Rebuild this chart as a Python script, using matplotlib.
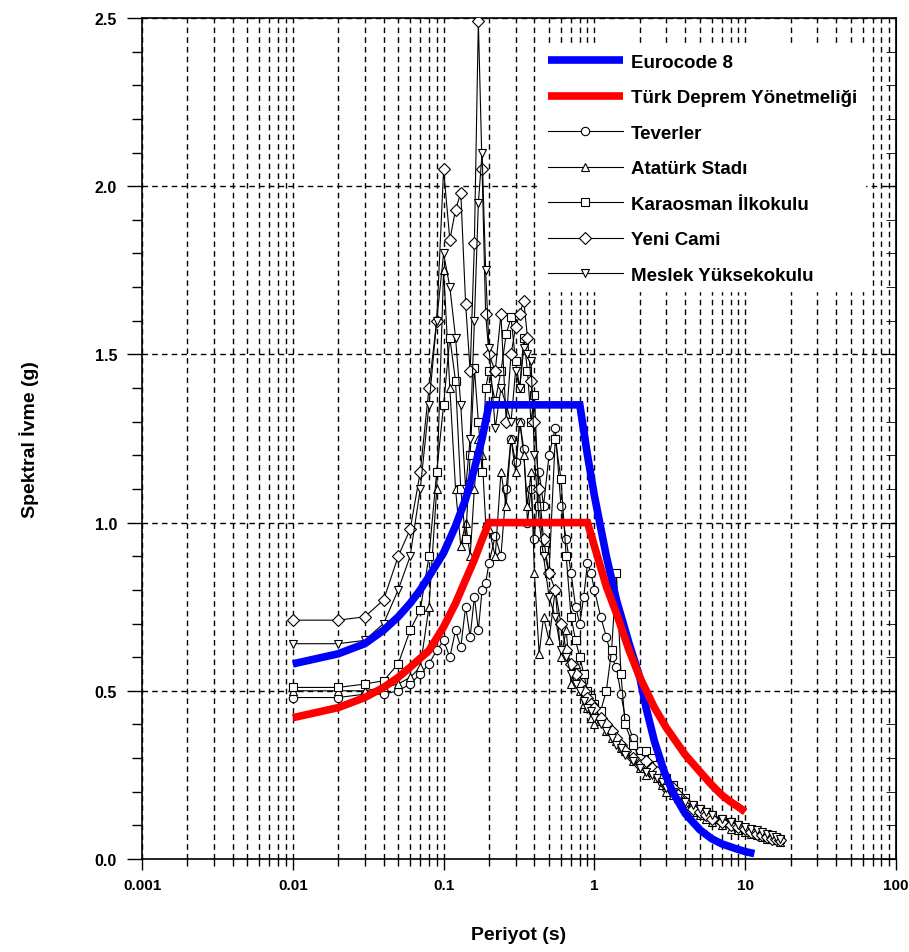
import matplotlib
matplotlib.use("Agg")
import matplotlib.pyplot as plt
from matplotlib.ticker import LogLocator, MultipleLocator, NullFormatter, FixedFormatter, FixedLocator

plt.rcParams['font.family'] = ['Liberation Sans', 'DejaVu Sans']
plt.rcParams['font.weight'] = 'bold'

# design spectra
ec8_T = [0.01, 0.02, 0.03, 0.04, 0.05, 0.06, 0.07, 0.08, 0.10, 0.12, 0.14, 0.16, 0.18, 0.20,
         0.80, 0.90, 1.0, 1.2, 1.4, 1.7, 2.0, 2.2, 2.5, 2.9, 3.3, 4.0, 5.0, 6.0, 7.0, 8.5, 10.0, 11.5]
ec8_sa = [0.58, 0.61, 0.64, 0.68, 0.72, 0.76, 0.80, 0.84, 0.91, 0.99, 1.07, 1.16, 1.25, 1.35,
          1.35, 1.20, 1.08, 0.90, 0.77, 0.64, 0.54, 0.45, 0.35, 0.26, 0.20, 0.135, 0.087, 0.06, 0.045, 0.032, 0.022, 0.016]

tdy_T = [0.01, 0.02, 0.03, 0.04, 0.05, 0.06, 0.08, 0.10, 0.12, 0.14, 0.16, 0.18, 0.20,
         0.90, 1.0, 1.2, 1.4, 1.7, 2.0, 2.5, 3.0, 4.0, 5.0, 6.0, 7.0, 8.0, 9.0, 10.0]
tdy_sa = [0.42, 0.45, 0.48, 0.51, 0.54, 0.57, 0.62, 0.69, 0.76, 0.83, 0.89, 0.95, 1.0,
          1.0, 0.93, 0.81, 0.73, 0.62, 0.54, 0.45, 0.39, 0.31, 0.26, 0.22, 0.19, 0.17, 0.155, 0.14]

# acceleration spectra of the recording stations
periods = [0.01, 0.02, 0.03, 0.04, 0.05, 0.06, 0.07, 0.08, 0.09, 0.10,
           0.11, 0.12, 0.13, 0.14, 0.15, 0.16, 0.17, 0.18, 0.19, 0.20,
           0.22, 0.24, 0.26, 0.28, 0.30, 0.32, 0.34, 0.36, 0.38, 0.40,
           0.43, 0.46, 0.50, 0.55, 0.60, 0.65, 0.70, 0.75, 0.80, 0.85,
           0.90, 0.95, 1.0, 1.1, 1.2, 1.3, 1.4, 1.5, 1.6, 1.8,
           2.0, 2.2, 2.4, 2.6, 2.8, 3.0, 3.3, 3.6, 4.0, 4.5,
           5.0, 5.5, 6.0, 7.0, 8.0, 9.0, 10.0, 11.0, 12.0, 13.0,
           14.0, 15.0, 16.0, 17.0]

teverler = [0.48, 0.48, 0.49, 0.49, 0.50, 0.52, 0.55, 0.58, 0.62, 0.65,
            0.60, 0.68, 0.63, 0.75, 0.66, 0.78, 0.68, 0.80, 0.82, 0.88,
            0.96, 0.90, 1.10, 1.25, 1.18, 1.30, 1.22, 1.00, 1.10, 0.95,
            1.15, 1.05, 1.20, 1.28, 1.05, 0.95, 0.85, 0.75, 0.70, 0.78,
            0.88, 0.85, 0.80, 0.72, 0.66, 0.60, 0.57, 0.49, 0.42, 0.36,
            0.32, 0.29, 0.27, 0.25, 0.23, 0.21, 0.20, 0.18, 0.16, 0.15,
            0.14, 0.13, 0.12, 0.11, 0.10, 0.09, 0.085, 0.08, 0.075, 0.07,
            0.065, 0.06, 0.058, 0.055]

ataturk = [0.50, 0.50, 0.50, 0.51, 0.52, 0.54, 0.57, 0.75, 1.10, 1.75,
           1.40, 1.10, 0.93, 1.00, 0.90, 1.10, 1.25, 1.20, 1.00, 0.98,
           0.90, 1.15, 1.05, 1.25, 1.15, 1.30, 1.20, 1.05, 1.15, 0.85,
           0.61, 0.72, 0.65, 0.80, 0.60, 0.68, 0.52, 0.58, 0.50, 0.46,
           0.45, 0.42, 0.40, 0.41, 0.38, 0.36, 0.35, 0.33, 0.32, 0.29,
           0.27, 0.25, 0.26, 0.24, 0.22, 0.20, 0.19, 0.18, 0.16, 0.14,
           0.13, 0.12, 0.11, 0.10, 0.09, 0.085, 0.08, 0.075, 0.07, 0.065,
           0.06, 0.058, 0.055, 0.05]

karaosman = [0.51, 0.51, 0.52, 0.53, 0.58, 0.68, 0.74, 0.90, 1.15, 1.35,
             1.55, 1.42, 1.10, 0.95, 1.20, 1.46, 1.30, 1.15, 1.40, 1.45,
             1.36, 1.45, 1.56, 1.61, 1.48, 1.40, 1.55, 1.45, 1.30, 1.38,
             1.05, 0.92, 0.85, 1.25, 1.13, 0.90, 0.72, 0.65, 0.60, 0.55,
             0.50, 0.48, 0.46, 0.44, 0.50, 0.62, 0.85, 0.55, 0.40, 0.34,
             0.30, 0.32, 0.30, 0.28, 0.26, 0.24, 0.22, 0.20, 0.18, 0.16,
             0.15, 0.14, 0.13, 0.12, 0.11, 0.10, 0.09, 0.085, 0.08, 0.075,
             0.07, 0.065, 0.06, 0.058]

yeni_cami = [0.71, 0.71, 0.72, 0.77, 0.90, 0.98, 1.15, 1.40, 1.60, 2.05,
             1.84, 1.93, 1.98, 1.65, 1.45, 1.83, 2.49, 2.05, 1.62, 1.50,
             1.45, 1.62, 1.30, 1.50, 1.58, 1.62, 1.66, 1.55, 1.42, 1.30,
             1.10, 0.95, 0.85, 0.80, 0.70, 0.62, 0.58, 0.55, 0.52, 0.50,
             0.48, 0.46, 0.45, 0.42, 0.40, 0.38, 0.36, 0.34, 0.32, 0.30,
             0.28, 0.29, 0.27, 0.26, 0.24, 0.22, 0.21, 0.19, 0.17, 0.15,
             0.14, 0.13, 0.12, 0.11, 0.10, 0.095, 0.09, 0.08, 0.075, 0.07,
             0.065, 0.06, 0.058, 0.055]

meslek = [0.64, 0.64, 0.65, 0.70, 0.80, 0.90, 1.10, 1.35, 1.60, 1.80,
          1.70, 1.55, 1.35, 1.10, 1.25, 1.60, 1.95, 2.10, 1.75, 1.52,
          1.28, 1.40, 1.35, 1.30, 1.45, 1.40, 1.52, 1.50, 1.48, 1.20,
          1.00, 0.90, 0.78, 0.72, 0.62, 0.60, 0.55, 0.52, 0.50, 0.47,
          0.45, 0.44, 0.42, 0.40, 0.38, 0.36, 0.34, 0.33, 0.31, 0.29,
          0.27, 0.26, 0.25, 0.24, 0.23, 0.21, 0.20, 0.18, 0.17, 0.16,
          0.15, 0.14, 0.13, 0.12, 0.11, 0.10, 0.095, 0.09, 0.085, 0.08,
          0.075, 0.07, 0.065, 0.06]

stations = [
    ("Teverler", teverler, 'o'),
    ("Atatürk Stadı", ataturk, '^'),
    ("Karaosman İlkokulu", karaosman, 's'),
    ("Yeni Cami", yeni_cami, 'D'),
    ("Meslek Yüksekokulu", meslek, 'v'),
]

x_ticks = [0.001, 0.01, 0.1, 1, 10, 100]
x_ticklabels = ["0.001", "0.01", "0.1", "1", "10", "100"]

fig = plt.figure(figsize=(9.09, 9.53), dpi=100)
ax = fig.add_axes([142 / 909, 1 - 860 / 953, 754 / 909, 841 / 953])

station_lines = []
for name, values, marker in stations:
    ln, = ax.plot(periods, values, color='black', lw=0.8, marker=marker, ms=6,
                  mfc='white', mec='black', mew=0.8, label=name, zorder=3)
    station_lines.append(ln)

l_ec8, = ax.plot(ec8_T, ec8_sa, color='#0000ff', lw=5.5, solid_capstyle='butt',
                 solid_joinstyle='miter', label="Eurocode 8", zorder=4)
l_tdy, = ax.plot(tdy_T, tdy_sa, color='#ff0000', lw=5.5, solid_capstyle='butt',
                 solid_joinstyle='miter', label="Türk Deprem Yönetmeliği", zorder=5)

ax.set_xscale('log')
ax.set_xlim(0.001, 100)
ax.set_ylim(0, 2.5)

ax.xaxis.set_major_locator(FixedLocator(x_ticks))
ax.xaxis.set_major_formatter(FixedFormatter(x_ticklabels))
ax.xaxis.set_minor_locator(LogLocator(base=10, subs=range(2, 10), numticks=20))
ax.xaxis.set_minor_formatter(NullFormatter())
ax.yaxis.set_major_locator(MultipleLocator(0.5))
ax.yaxis.set_minor_locator(MultipleLocator(0.1))
ax.yaxis.set_major_formatter(lambda v, p: f"{v:.1f}")

dash = (0, (4, 3))
ax.grid(True, which='both', axis='x', color='black', lw=1.0, linestyle=dash)
ax.grid(True, which='major', axis='y', color='black', lw=1.0, linestyle=dash)
ax.set_axisbelow(True)

ax.tick_params(axis='x', which='major', direction='out', length=8, width=1, pad=6, labelsize=11)
ax.tick_params(axis='x', which='minor', direction='out', length=5, width=1)
ax.tick_params(axis='y', which='major', direction='out', length=11, width=1, pad=7, labelsize=11.5)
ax.tick_params(axis='y', which='minor', direction='out', length=7, width=1)
for s in ax.spines.values():
    s.set_linewidth(1.2)

# inward ticks on the right frame
sec = ax.secondary_yaxis('right')
sec.yaxis.set_major_locator(MultipleLocator(0.5))
sec.yaxis.set_minor_locator(MultipleLocator(0.1))
sec.tick_params(which='both', direction='in', labelright=False)
sec.tick_params(which='major', length=10)
sec.tick_params(which='minor', length=7)

for lbl in ax.get_xticklabels() + ax.get_yticklabels():
    lbl.set_fontweight('bold')

ax.set_xlabel("Periyot (s)", fontsize=14, fontweight='bold', labelpad=24)
ax.set_ylabel("Spektral İvme (g)", fontsize=14, fontweight='bold', labelpad=40)

handles = [l_ec8, l_tdy] + station_lines
leg = ax.legend(handles=handles, loc='upper left', bbox_to_anchor=(540 / 909, 1 - 47 / 953),
                bbox_transform=fig.transFigure, fontsize=13.5, frameon=True, fancybox=False,
                framealpha=1, edgecolor='white', handlelength=4.0, handletextpad=0.45,
                labelspacing=0.98, borderpad=0.4, borderaxespad=0, numpoints=1)
leg.set_zorder(10)
for t in leg.get_texts():
    t.set_fontweight('bold')

fig.savefig("out.png", dpi=100)
